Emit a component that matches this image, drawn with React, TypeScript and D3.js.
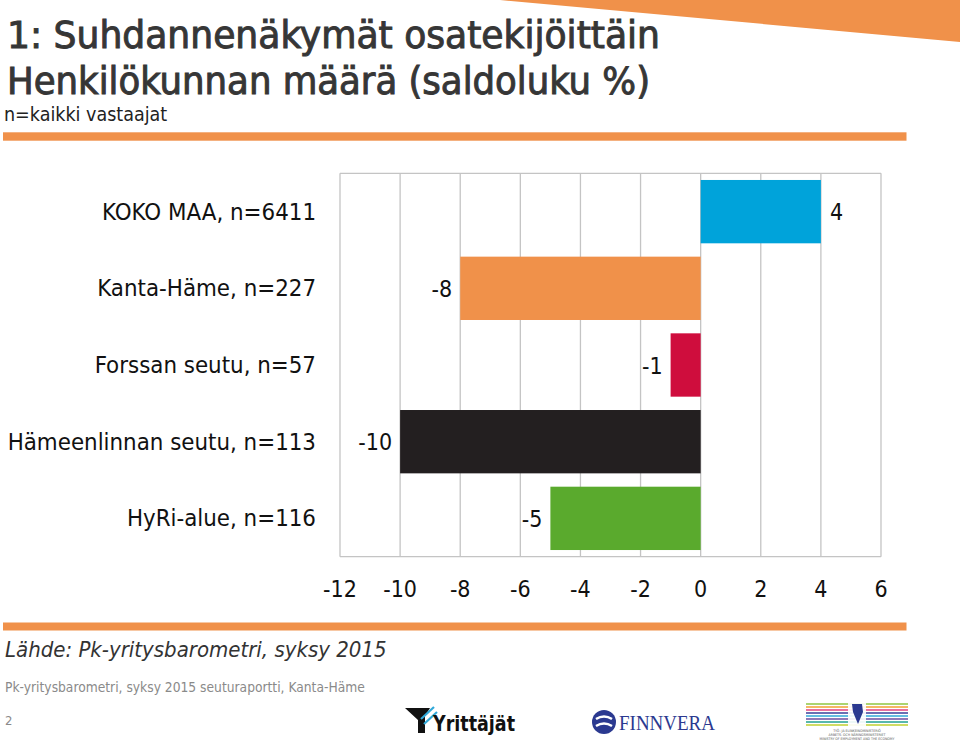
import React from "react";
import * as d3 from "d3";

const categories = [
  "KOKO MAA, n=6411",
  "Kanta-Häme, n=227",
  "Forssan seutu, n=57",
  "Hämeenlinnan seutu, n=113",
  "HyRi-alue, n=116",
];
const values = [4, -8, -1, -10, -5];
const barColors = ["#00a3da", "#f0914a", "#cf0d3d", "#231f20", "#5aaa2d"];
const tickValues = [-12, -10, -8, -6, -4, -2, 0, 2, 4, 6];

const titleLine1 = "1: Suhdannenäkymät osatekijöittäin";
const titleLine2 = "Henkilökunnan määrä (saldoluku %)";
const subtitle = "n=kaikki vastaajat";
const sourceText = "Lähde: Pk-yritysbarometri, syksy 2015";
const footerText = "Pk-yritysbarometri, syksy 2015 seuturaportti, Kanta-Häme";
const pageNumber = "2";

const FONT = "'DejaVu Sans Condensed', 'DejaVu Sans', sans-serif";

export default function App() {
  const W = 960;
  const H = 744;
  const left = 340;
  const right = 881;
  const top = 173.3;
  const bottom = 556.7;

  const x = d3.scaleLinear().domain([-12, 6]).range([left, right]);
  const y = d3
    .scaleBand<string>()
    .domain(categories)
    .range([top, bottom])
    .paddingInner(0.174)
    .paddingOuter(0.087);

  const stripeColors = ["#8fc640", "#f0a030", "#e04080", "#3a3f9a", "#30a8d8", "#6a4aa0", "#20a090", "#c0d030"];

  return (
    <svg
      width={W}
      height={H}
      style={{ position: "absolute", left: 0, top: 0, background: "#fff" }}
      fontFamily={FONT}
    >
      <rect x={0} y={0} width={W} height={H} fill="#fff" />
      {/* top-right orange wedge */}
      <polygon points="500,0 960,0 960,42" fill="#f0914a" />

      {/* titles */}
      <text x={7} y={48} fontSize={37} fill="#363636" stroke="#363636" strokeWidth={0.9} textLength={653} lengthAdjust="spacingAndGlyphs">
        {titleLine1}
      </text>
      <text x={7} y={94} fontSize={37} fill="#363636" stroke="#363636" strokeWidth={0.9} textLength={643} lengthAdjust="spacingAndGlyphs">
        {titleLine2}
      </text>
      <text x={4} y={121} fontSize={19.5} fill="#222">
        {subtitle}
      </text>
      <rect x={3} y={132.3} width={903.5} height={8.4} fill="#f0914a" />

      {/* grid */}
      {tickValues.map((t) => (
        <line key={"g" + t} x1={x(t)} x2={x(t)} y1={top} y2={bottom} stroke="#c4c4c4" strokeWidth={1.3} />
      ))}
      <line x1={left} x2={right} y1={top} y2={top} stroke="#c4c4c4" strokeWidth={1.3} />
      <line x1={left} x2={right} y1={bottom} y2={bottom} stroke="#c4c4c4" strokeWidth={1.3} />

      {/* bars */}
      {categories.map((c, i) => {
        const v = values[i];
        const x0 = x(Math.min(0, v));
        const x1 = x(Math.max(0, v));
        const yc = (y(c) as number) + y.bandwidth() / 2;
        return (
          <g key={c}>
            <rect x={x0} y={y(c)} width={x1 - x0} height={y.bandwidth()} fill={barColors[i]} />
            <text
              x={v >= 0 ? x1 + 9 : x0 - 8}
              y={yc + 8.5}
              fontSize={23}
              fill="#111"
              textAnchor={v >= 0 ? "start" : "end"}
            >
              {v}
            </text>
            <text x={316} y={yc + 8} fontSize={23.8} fill="#111" textAnchor="end">
              {c}
            </text>
          </g>
        );
      })}

      {/* x tick labels */}
      {tickValues.map((t) => (
        <text key={"t" + t} x={x(t)} y={597.3} fontSize={23} fill="#111" textAnchor="middle">
          {t}
        </text>
      ))}

      {/* bottom orange bar */}
      <rect x={3} y={622.5} width={903.5} height={8} fill="#f0914a" />
      <text x={5} y={657} fontSize={22} fontStyle="italic" fill="#333">
        {sourceText}
      </text>
      <text x={5} y={692} fontSize={13.7} fill="#8a8a8a">
        {footerText}
      </text>
      <text x={5} y={725} fontSize={13} fill="#8a8a8a">
        {pageNumber}
      </text>

      {/* Yrittäjät logo */}
      <g>
        <polygon points="405,708 430,708 425,716 425,733 418,733 418,720" fill="#111" />
        <line x1={421} y1={719} x2={434} y2={707} stroke="#30a8d8" strokeWidth={2.2} />
        <line x1={424} y1={724} x2={437} y2={712} stroke="#30a8d8" strokeWidth={2.2} />
        <text x={433} y={731} fontSize={22} fontWeight="bold" fill="#111" textLength={82} lengthAdjust="spacingAndGlyphs">
          Yrittäjät
        </text>
      </g>

      {/* Finnvera logo */}
      <g>
        <circle cx={604} cy={722} r={12} fill="#2b3990" />
        <path d="M596,719 Q604,714 612,719" stroke="#fff" strokeWidth={2.5} fill="none" />
        <path d="M596,726 Q604,721 612,726" stroke="#fff" strokeWidth={2.5} fill="none" />
        <text x={619} y={730} fontSize={21} fill="#2b3990" fontFamily="'Liberation Serif', serif" textLength={96} lengthAdjust="spacingAndGlyphs">
          FINNVERA
        </text>
      </g>

      {/* Ministry logo */}
      <g>
        {stripeColors.map((col, i) => (
          <rect key={"s" + i} x={806} y={703 + i * 3} width={102} height={2} fill={col} opacity={0.75} />
        ))}
        <rect x={848} y={701} width={18} height={27} fill="#fff" opacity={0.9} />
        <path d="M852,704 L862,704 L863,712 L858,724 L853,712 Z" fill="#2b3990" />
        <text x={857} y={732} fontSize={3.5} fill="#555" textAnchor="middle">TYÖ- JA ELINKEINOMINISTERIÖ</text>
        <text x={857} y={736} fontSize={3.5} fill="#555" textAnchor="middle">ARBETS- OCH NÄRINGSMINISTERIET</text>
        <text x={857} y={740} fontSize={3.5} fill="#555" textAnchor="middle">MINISTRY OF EMPLOYMENT AND THE ECONOMY</text>
      </g>
    </svg>
  );
}
